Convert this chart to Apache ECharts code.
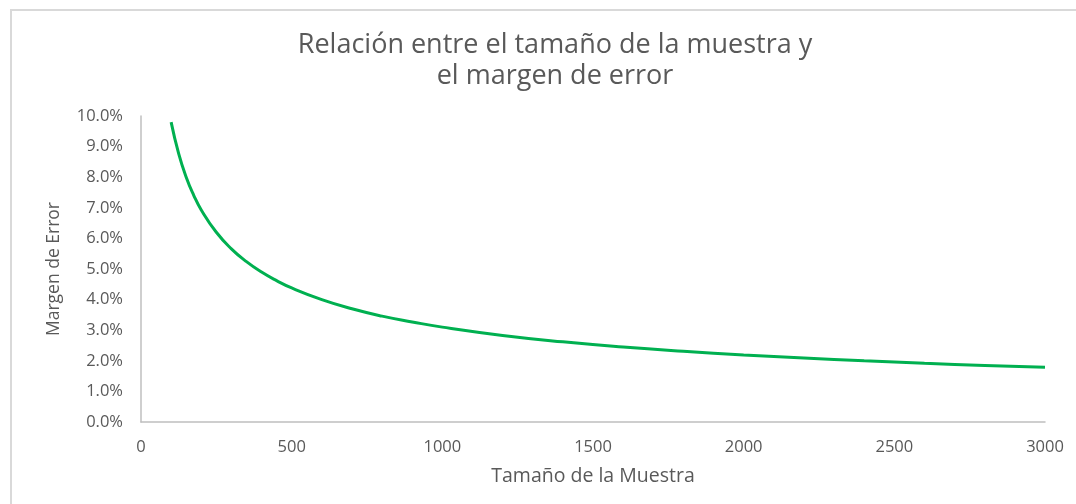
<!DOCTYPE html>
<html>
<head>
<meta charset="utf-8">
<script src="https://cdn.jsdelivr.net/npm/echarts@6/dist/echarts.min.js"></script>
<style>
html,body{margin:0;padding:0;background:#fff;}
#chart{width:1076px;height:504px;}
</style>
</head>
<body>
<div id="chart"></div>
<script>
const sampleSizes = [100,125,150,175,200,250,300,350,400,450,500,600,700,800,900,1000,1200,1400,1600,1800,2000,2200,2400,2600,2800,3000];
const marginOfError = [0.0980,0.0877,0.0800,0.0741,0.0693,0.0620,0.0566,0.0524,0.0490,0.0462,0.0438,0.0400,0.0370,0.0346,0.0327,0.0310,0.0283,0.0262,0.0245,0.0231,0.0219,0.0209,0.0200,0.0192,0.0185,0.0179];
const titleLines = ['Relación entre el tamaño de la muestra y','el margen de error'];
const xName = 'Tamaño de la Muestra';
const yName = 'Margen de Error';

const chart = echarts.init(document.getElementById('chart'), null, {renderer:'canvas'});
const font = '"Open Sans", sans-serif';
chart.setOption({
  animation:false,
  backgroundColor:'#fff',
  title:{
    text: titleLines.join('\n'),
    left:550, top:25, textAlign:'center',
    textStyle:{fontFamily:font, fontSize:27, fontWeight:'normal', color:'#595959', lineHeight:31}
  },
  graphic:[
    {type:'line', shape:{x1:10,y1:10,x2:1076,y2:10}, style:{stroke:'#d9d9d9',lineWidth:2}},
    {type:'line', shape:{x1:11,y1:10,x2:11,y2:504}, style:{stroke:'#d9d9d9',lineWidth:2}}
  ],
  grid:{left:141, right:31, top:116, bottom:82},
  xAxis:{
    type:'value', min:0, max:3000, interval:500,
    name:xName, nameLocation:'middle', nameGap:44,
    nameTextStyle:{fontFamily:font, fontSize:19.5, color:'#595959'},
    axisLine:{show:true, lineStyle:{color:'#bfbfbf', width:1.5}},
    axisTick:{show:false},
    splitLine:{show:false},
    axisLabel:{fontFamily:font, fontSize:16.5, color:'#595959', margin:17,
      formatter:v => String(v)}
  },
  yAxis:{
    type:'value', min:0, max:0.1, interval:0.01,
    name:yName, nameLocation:'middle', nameGap:78, nameRotate:90,
    nameTextStyle:{fontFamily:font, fontSize:17.5, color:'#595959'},
    axisLine:{show:true, lineStyle:{color:'#bfbfbf', width:1.5}},
    axisTick:{show:false},
    splitLine:{show:false},
    axisLabel:{fontFamily:font, fontSize:16.5, color:'#595959', margin:18,
      formatter:v => (v*100).toFixed(1)+'%'}
  },
  series:[{
    type:'line',
    data: sampleSizes.map((s,i)=>[s, marginOfError[i]]),
    smooth:true, showSymbol:false,
    lineStyle:{color:'#00b050', width:3},
    itemStyle:{color:'#00b050'}
  }]
});
</script>
</body>
</html>
